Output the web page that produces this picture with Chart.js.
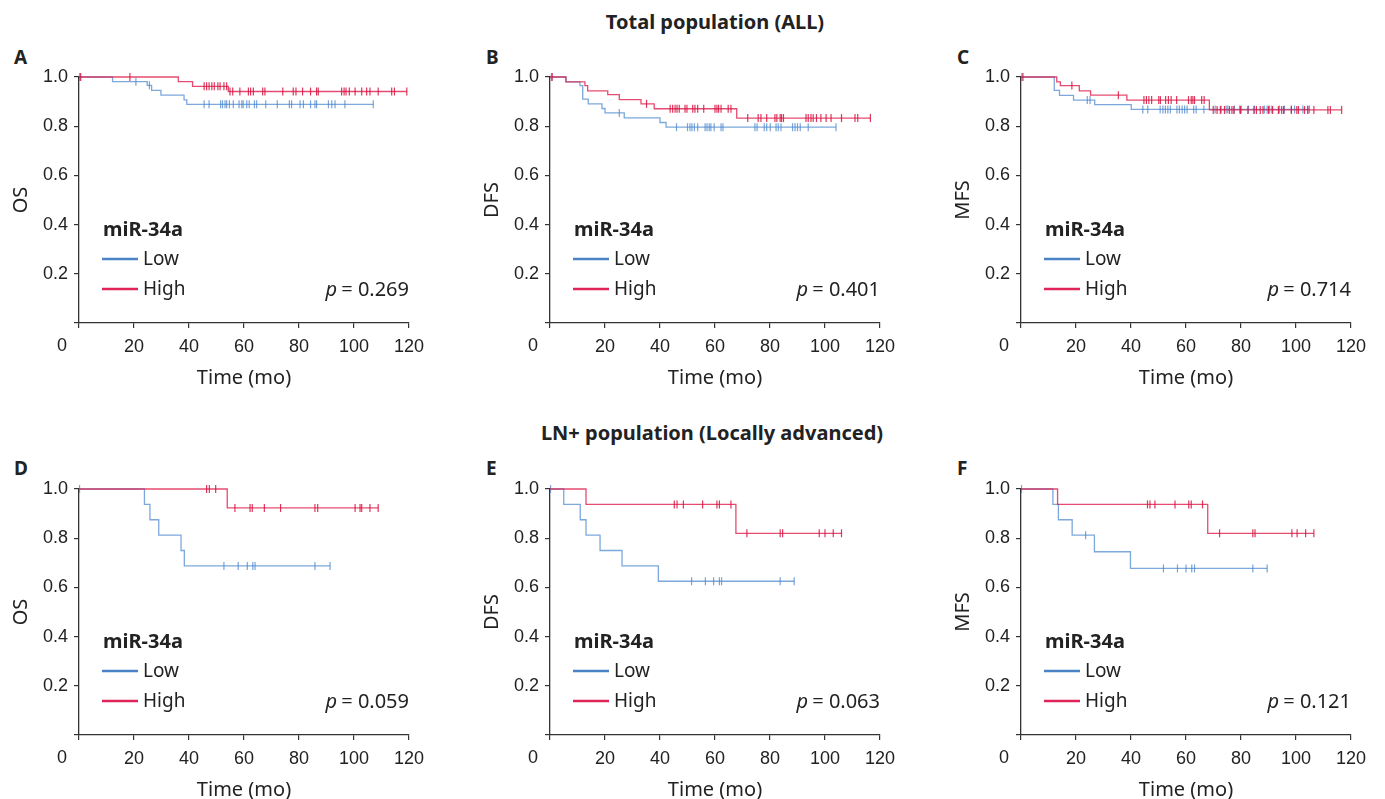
<!doctype html>
<html lang="en">
<head>
<meta charset="utf-8">
<title>miR-34a survival curves</title>
<script src="https://cdn.jsdelivr.net/npm/chart.js"></script>
<style>
  body { margin: 0; background: #fff; font-family: "Noto Sans", sans-serif; color: #222; overflow: hidden; }
  #wrap { position: relative; width: 1385px; height: 799px; }
  canvas { position: absolute; }
  .row-title { position: absolute; font-weight: bold; font-size: 20px; line-height: 24px; transform: translateX(-50%); white-space: nowrap; }
  .letter { position: absolute; font-weight: bold; font-size: 19px; line-height: 20px; }
</style>
</head>
<body>
<div id="wrap">
  <div class="row-title" style="left:715px;top:10px">Total population (ALL)</div>
  <div class="row-title" style="left:712px;top:421px">LN+ population (Locally advanced)</div>
  <div class="letter" style="left:14px;top:47px">A</div>
  <div class="letter" style="left:486px;top:47px">B</div>
  <div class="letter" style="left:957px;top:47px">C</div>
  <div class="letter" style="left:14px;top:458px">D</div>
  <div class="letter" style="left:486px;top:458px">E</div>
  <div class="letter" style="left:957px;top:458px">F</div>
</div>
<script>
// step curves: time (mo) of each drop and survival after it, plus censor times
const aLowTime = [0, 12.2, 24.8, 26.4, 29.8, 38.2, 39.2, 107.0];
const aLowSurv = [1, 0.981, 0.966, 0.946, 0.926, 0.907, 0.889, 0.889];
const aLowCens = [0.2, 20.7, 25.6, 45.5, 47.3, 51.5, 52.2, 53.1, 53.7, 54.7, 56.1, 58.2, 59.2, 59.7, 61.0, 61.9, 63.8, 64.6, 67.9, 72.1, 76.5, 77.3, 80.4, 81.6, 84.2, 85.8, 86.4, 90.7, 91.9, 93.1, 96.7, 107.0];
const aHighTime = [0, 36.1, 41.3, 54.3, 119.2];
const aHighSurv = [1, 0.981, 0.962, 0.941, 0.941];
const aHighCens = [0.6, 18.5, 45.5, 46.4, 47.3, 48.3, 49.2, 50.5, 51.3, 52.7, 53.7, 54.9, 55.9, 58.5, 61.6, 62.4, 63.4, 66.8, 67.6, 74.1, 77.9, 78.9, 81.3, 84.2, 86.4, 87.0, 95.5, 96.4, 97.1, 98.3, 100.4, 102.8, 104.6, 105.8, 108.8, 113.7, 114.7, 119.2];

const bLowTime = [0, 5.8, 10.9, 11.9, 13.9, 18.9, 20.0, 27.0, 40.0, 42.2, 104.0];
const bLowSurv = [1, 0.98, 0.965, 0.91, 0.891, 0.872, 0.854, 0.834, 0.815, 0.796, 0.796];
const bLowCens = [0.5, 25.2, 46.0, 50.0, 50.9, 51.6, 52.5, 53.7, 56.4, 57.1, 57.9, 58.5, 59.7, 62.2, 62.9, 74.5, 75.3, 77.9, 78.8, 80.1, 82.2, 83.0, 84.0, 88.2, 89.1, 90.0, 91.0, 93.9, 104.0];
const bHighTime = [0, 5.8, 12.7, 13.7, 21.0, 25.2, 33.1, 37.9, 67.9, 116.5];
const bHighSurv = [1, 0.98, 0.965, 0.944, 0.928, 0.908, 0.891, 0.871, 0.833, 0.833];
const bHighCens = [0.8, 35.1, 43.7, 44.6, 45.5, 46.2, 47.0, 49.1, 49.8, 51.9, 52.7, 53.7, 55.9, 60.0, 60.7, 61.3, 62.2, 64.8, 65.8, 71.9, 75.7, 76.7, 78.8, 81.8, 82.5, 83.7, 84.2, 84.9, 93.1, 93.9, 94.9, 95.7, 96.9, 98.5, 100.4, 102.2, 106.0, 110.9, 111.9, 116.5];

const cLowTime = [0, 12.1, 14.0, 19.1, 26.8, 40.1, 104.9];
const cLowSurv = [1, 0.946, 0.925, 0.906, 0.888, 0.868, 0.868];
const cLowCens = [0.3, 24.1, 25.1, 44.3, 46.1, 50.6, 51.6, 52.5, 53.4, 54.3, 56.7, 57.6, 58.6, 59.5, 60.4, 62.8, 63.7, 66.5, 70.6, 72.8, 74.6, 75.2, 77.6, 79.5, 80.1, 82.7, 84.9, 88.5, 89.5, 90.4, 91.2, 94.0, 95.8, 98.3, 99.5, 102.5, 104.3, 104.9];
const cHighTime = [0, 13.0, 14.3, 21.2, 25.3, 38.5, 68.5, 116.6];
const cHighSurv = [1, 0.98, 0.965, 0.944, 0.926, 0.906, 0.866, 0.866];
const cHighCens = [0.7, 18.5, 35.4, 44.7, 45.6, 46.5, 47.5, 50.1, 50.7, 52.6, 53.6, 54.6, 56.6, 60.9, 61.9, 62.5, 63.1, 65.7, 66.6, 69.9, 71.3, 72.5, 74.0, 75.8, 76.7, 77.4, 79.8, 82.5, 84.7, 85.6, 87.0, 88.0, 90.0, 91.5, 93.6, 94.8, 95.5, 98.3, 100.3, 100.9, 103.1, 104.3, 106.5, 111.6, 112.5, 116.6];

const dLowTime = [0, 23.8, 25.8, 29.0, 37.1, 38.3, 91.3];
const dLowSurv = [1, 0.9375, 0.875, 0.8125, 0.75, 0.6875, 0.6875];
const dLowCens = [0.2, 52.7, 57.9, 61.2, 63.2, 64.0, 85.8, 91.3];
const dHighTime = [0, 53.9, 108.8];
const dHighSurv = [1, 0.923, 0.923];
const dHighCens = [46.4, 47.4, 49.7, 56.7, 62.2, 63.0, 67.4, 73.3, 85.8, 86.8, 100.4, 102.2, 102.8, 105.8, 108.8];

const eLowTime = [0, 5.0, 11.0, 13.1, 18.2, 26.2, 39.4, 88.8];
const eLowSurv = [1, 0.9375, 0.875, 0.8125, 0.75, 0.6875, 0.625, 0.625];
const eLowCens = [0.2, 51.5, 56.5, 59.5, 61.6, 62.4, 83.7, 88.8];
const eHighTime = [0, 13.1, 67.6, 106.0];
const eHighSurv = [1, 0.9375, 0.82, 0.82];
const eHighCens = [45.2, 46.2, 48.5, 55.5, 60.7, 61.6, 65.8, 71.6, 83.7, 84.6, 97.9, 100.0, 103.0, 106.0];

const fLowTime = [0, 11.6, 13.6, 18.6, 26.7, 39.8, 89.5];
const fLowSurv = [1, 0.9375, 0.875, 0.8125, 0.745, 0.677, 0.677];
const fLowCens = [0.2, 23.5, 51.8, 56.9, 60.0, 62.1, 63.1, 84.3, 89.5];
const fHighTime = [0, 13.3, 67.9, 106.5];
const fHighSurv = [1, 0.9375, 0.82, 0.82];
const fHighCens = [46.0, 46.9, 48.7, 56.0, 61.0, 61.9, 66.0, 72.2, 84.3, 85.1, 98.5, 100.4, 103.5, 106.5];

const yTicks = [0, 0.2, 0.4, 0.6, 0.8, 1.0];
const xTicks = [0, 20, 40, 60, 80, 100, 120];

const panels = [
  { left: 0,   top: 40,  yTitle: 'OS',  p: '0.269', low: [aLowTime, aLowSurv, aLowCens], high: [aHighTime, aHighSurv, aHighCens] },
  { left: 471, top: 40,  yTitle: 'DFS', p: '0.401', low: [bLowTime, bLowSurv, bLowCens], high: [bHighTime, bHighSurv, bHighCens] },
  { left: 942, top: 40,  yTitle: 'MFS', p: '0.714', low: [cLowTime, cLowSurv, cLowCens], high: [cHighTime, cHighSurv, cHighCens] },
  { left: 0,   top: 452, yTitle: 'OS',  p: '0.059', low: [dLowTime, dLowSurv, dLowCens], high: [dHighTime, dHighSurv, dHighCens] },
  { left: 471, top: 452, yTitle: 'DFS', p: '0.063', low: [eLowTime, eLowSurv, eLowCens], high: [eHighTime, eHighSurv, eHighCens] },
  { left: 942, top: 452, yTitle: 'MFS', p: '0.121', low: [fLowTime, fLowSurv, fLowCens], high: [fHighTime, fHighSurv, fHighCens] }
];

const LOW_LINE = 'rgba(74,134,205,0.72)';
const HIGH_LINE = 'rgba(222,30,76,0.8)';
const LOW_KEY = '#4a83c6';
const HIGH_KEY = '#e0245a';
const AXIS = '#333';
const TICK_FONT = { family: '"Liberation Sans", Arial, sans-serif', size: 18 };

function survAt(times, surv, t) {
  let v = surv[0];
  for (let i = 0; i < times.length; i++) if (times[i] <= t) v = surv[i];
  return v;
}

function curve(times, surv) {
  return times.map((t, i) => ({ x: t, y: surv[i] }));
}

function marks(times, surv, cens) {
  return cens.map(t => ({ x: t, y: survAt(times, surv, t) }));
}

const kmDecor = {
  id: 'kmDecor',
  afterDraw(chart) {
    const o = chart.options.plugins.kmDecor;
    const { ctx, chartArea: { left, right, top, bottom } } = chart;
    ctx.save();
    ctx.fillStyle = '#222';
    ctx.textBaseline = 'middle';
    ctx.textAlign = 'left';
    ctx.font = 'bold 20px "Noto Sans"';
    ctx.fillText('miR-34a', left + 24, top + 153);
    ctx.lineWidth = 2.5;
    ctx.strokeStyle = LOW_KEY;
    ctx.beginPath(); ctx.moveTo(left + 23, top + 182); ctx.lineTo(left + 59, top + 182); ctx.stroke();
    ctx.strokeStyle = HIGH_KEY;
    ctx.beginPath(); ctx.moveTo(left + 23, top + 212); ctx.lineTo(left + 59, top + 212); ctx.stroke();
    ctx.font = '19px "Noto Sans"';
    ctx.fillText('Low', left + 64, top + 183);
    ctx.fillText('High', left + 64, top + 213);
    // p value, right aligned to the plot edge
    ctx.font = '20px "Noto Sans"';
    const rest = ' = ' + o.p;
    ctx.textAlign = 'right';
    ctx.fillText(rest, right, top + 213);
    const w = ctx.measureText(rest).width;
    ctx.font = 'italic 20px "Noto Sans"';
    ctx.fillText('p', right - w + 1, top + 213);
    // the corner "0" sits left of the origin
    ctx.font = '18px ' + TICK_FONT.family;
    ctx.textAlign = 'center';
    ctx.fillText('0', left - 17, bottom + 23);
    ctx.restore();
  }
};

const wrap = document.getElementById('wrap');
panels.forEach(pn => {
  const cv = document.createElement('canvas');
  cv.width = 440; cv.height = 360;
  cv.style.left = pn.left + 'px'; cv.style.top = pn.top + 'px';
  wrap.appendChild(cv);

  const [lt, ls, lc] = pn.low;
  const [ht, hs, hc] = pn.high;
  const mark = color => ({ showLine: false, pointStyle: 'line', rotation: 90, pointRadius: 4, pointBorderWidth: 1.2, pointBorderColor: color, borderColor: color, pointHoverRadius: 4, clip: false });

  new Chart(cv, {
    type: 'scatter',
    data: {
      datasets: [
        { label: 'High censored', data: marks(ht, hs, hc), ...mark('rgba(215,20,65,0.85)') },
        { label: 'High', data: curve(ht, hs), showLine: true, stepped: true, borderColor: HIGH_LINE, borderWidth: 1.3, pointRadius: 0, clip: false },
        { label: 'Low censored', data: marks(lt, ls, lc), ...mark('rgba(74,134,205,0.75)') },
        { label: 'Low', data: curve(lt, ls), showLine: true, stepped: true, borderColor: LOW_LINE, borderWidth: 1.3, pointRadius: 0, clip: false }
      ]
    },
    options: {
      responsive: false,
      animation: false,
      devicePixelRatio: 1,
      layout: { padding: { left: 0, top: 37, right: 31, bottom: 0 } },
      plugins: { legend: { display: false }, tooltip: { enabled: false }, kmDecor: { p: pn.p } },
      scales: {
        x: {
          type: 'linear', min: 0, max: 120,
          afterBuildTicks: s => { s.ticks = xTicks.map(v => ({ value: v })); },
          afterFit: s => { s.height = 77; },
          ticks: { color: '#222', font: TICK_FONT, padding: 8, maxRotation: 0, autoSkip: false, callback: v => v === 0 ? '' : v },
          grid: { drawOnChartArea: false, tickLength: 5, color: AXIS, lineWidth: 1.2 },
          border: { color: AXIS, width: 1.3 },
          title: { display: true, text: 'Time (mo)', color: '#222', font: { family: '"Noto Sans"', size: 20 }, padding: { top: 0, bottom: 10 } }
        },
        y: {
          min: 0, max: 1,
          afterBuildTicks: s => { s.ticks = yTicks.map(v => ({ value: v })); },
          afterFit: s => { s.width = 79; },
          ticks: { color: '#222', font: TICK_FONT, padding: 6, callback: v => v === 0 ? '' : v.toFixed(1) },
          grid: { drawOnChartArea: false, tickLength: 5, color: AXIS, lineWidth: 1.2 },
          border: { color: AXIS, width: 1.3 },
          title: { display: true, text: pn.yTitle, color: '#222', font: { family: '"Noto Sans"', size: 20 }, padding: { top: 9, bottom: 0 } }
        }
      }
    },
    plugins: [kmDecor]
  });
});
</script>
</body>
</html>
